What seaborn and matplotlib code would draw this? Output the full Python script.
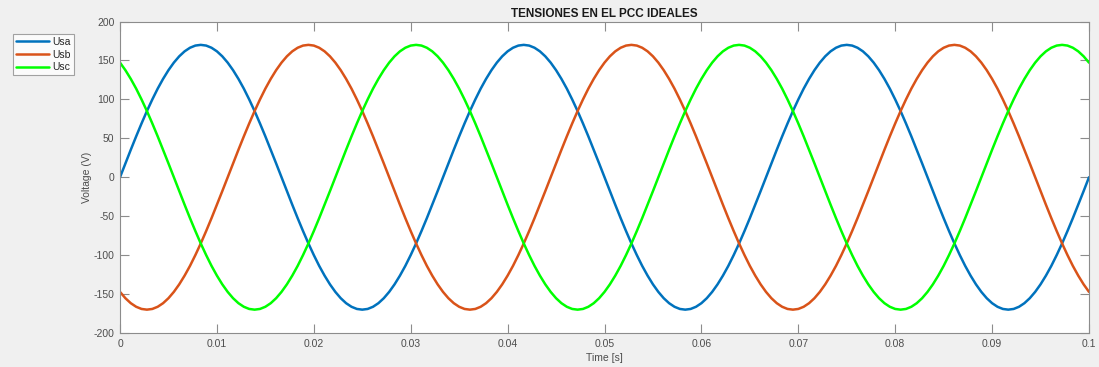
import pandas as pd
import matplotlib
matplotlib.use("Agg")
import matplotlib.pyplot as plt
import seaborn as sns

# Sample times: 181 samples spread evenly over 0 .. 0.1 s
n_samples = 181
t_end = 0.1

# one period (60 samples) of each phase voltage (V)
usa_cycle = [0.0, 17.8, 35.3, 52.5, 69.1, 85.0, 99.9, 113.8, 126.3, 137.5,
             147.2, 155.3, 161.7, 166.3, 169.1, 170.0, 169.1, 166.3, 161.7, 155.3,
             147.2, 137.5, 126.3, 113.8, 99.9, 85.0, 69.1, 52.5, 35.3, 17.8,
             0.0, -17.8, -35.3, -52.5, -69.1, -85.0, -99.9, -113.8, -126.3, -137.5,
             -147.2, -155.3, -161.7, -166.3, -169.1, -170.0, -169.1, -166.3, -161.7, -155.3,
             -147.2, -137.5, -126.3, -113.8, -99.9, -85.0, -69.1, -52.5, -35.3, -17.8]
usb_cycle = [-147.2, -155.3, -161.7, -166.3, -169.1, -170.0, -169.1, -166.3, -161.7, -155.3,
             -147.2, -137.5, -126.3, -113.8, -99.9, -85.0, -69.1, -52.5, -35.3, -17.8,
             0.0, 17.8, 35.3, 52.5, 69.1, 85.0, 99.9, 113.8, 126.3, 137.5,
             147.2, 155.3, 161.7, 166.3, 169.1, 170.0, 169.1, 166.3, 161.7, 155.3,
             147.2, 137.5, 126.3, 113.8, 99.9, 85.0, 69.1, 52.5, 35.3, 17.8,
             0.0, -17.8, -35.3, -52.5, -69.1, -85.0, -99.9, -113.8, -126.3, -137.5]
usc_cycle = [147.2, 137.5, 126.3, 113.8, 99.9, 85.0, 69.1, 52.5, 35.3, 17.8,
             0.0, -17.8, -35.3, -52.5, -69.1, -85.0, -99.9, -113.8, -126.3, -137.5,
             -147.2, -155.3, -161.7, -166.3, -169.1, -170.0, -169.1, -166.3, -161.7, -155.3,
             -147.2, -137.5, -126.3, -113.8, -99.9, -85.0, -69.1, -52.5, -35.3, -17.8,
             0.0, 17.8, 35.3, 52.5, 69.1, 85.0, 99.9, 113.8, 126.3, 137.5,
             147.2, 155.3, 161.7, 166.3, 169.1, 170.0, 169.1, 166.3, 161.7, 155.3]

usa = usa_cycle * 3 + [usa_cycle[0]]
usb = usb_cycle * 3 + [usb_cycle[0]]
usc = usc_cycle * 3 + [usc_cycle[0]]

series_names = ["Usa", "Usb", "Usc"]
colors = ["#0072BD", "#D95319", "#00FF00"]
x_ticks = [0, 0.01, 0.02, 0.03, 0.04, 0.05, 0.06, 0.07, 0.08, 0.09, 0.1]
x_tick_labels = ["0", "0.01", "0.02", "0.03", "0.04", "0.05", "0.06", "0.07", "0.08", "0.09", "0.1"]
y_ticks = [-200, -150, -100, -50, 0, 50, 100, 150, 200]
y_tick_labels = ["-200", "-150", "-100", "-50", "0", "50", "100", "150", "200"]

t = [t_end * i / (n_samples - 1) for i in range(n_samples)]
df = pd.DataFrame({
    "t": t * 3,
    "v": usa + usb + usc,
    "s": [series_names[0]] * n_samples + [series_names[1]] * n_samples + [series_names[2]] * n_samples,
})

sns.set_style("white")
plt.rcParams["font.family"] = ["Liberation Sans", "DejaVu Sans"]
plt.rcParams["axes.unicode_minus"] = False

fig = plt.figure(figsize=(10.99, 3.67), dpi=100, facecolor="#F0F0F0")
ax = fig.add_axes([0.1092, 0.0926, 0.8817, 0.8488])
ax.set_facecolor("white")

sns.lineplot(data=df, x="t", y="v", hue="s", palette=dict(zip(series_names, colors)),
             linewidth=1.8, ax=ax, legend=True, estimator=None)

ax.set_xlim(0, 0.1)
ax.set_ylim(-200, 200)
ax.set_xticks(x_ticks)
ax.set_xticklabels(x_tick_labels)
ax.set_yticks(y_ticks)
ax.set_yticklabels(y_tick_labels)
ax.tick_params(direction="in", length=6.5, width=0.8, colors="#8c8c8c", labelcolor="#4d4d4d",
               labelsize=7.5, top=True, right=True, bottom=True, left=True, pad=4)
for sp in ax.spines.values():
    sp.set_visible(True)
    sp.set_color("#8c8c8c")
    sp.set_linewidth(0.8)

ax.set_xlabel("Time [s]", fontsize=7.5, color="#4d4d4d", labelpad=3)
ax.set_ylabel("Voltage (V)", fontsize=7.5, color="#4d4d4d", labelpad=1)
ax.set_title("TENSIONES EN EL PCC IDEALES", fontsize=8.5, fontweight="bold", color="#1a1a1a", pad=3)

leg = ax.legend(loc="upper left", bbox_to_anchor=(-0.1104, 0.96), fontsize=7.5,
                frameon=True, fancybox=False, edgecolor="#8c8c8c", handlelength=3.2,
                borderpad=0.3, labelspacing=0.25, handletextpad=0.3, borderaxespad=0)
leg.get_frame().set_linewidth(0.8)
leg.get_frame().set_facecolor("white")
for txt in leg.get_texts():
    txt.set_color("#262626")

fig.savefig("out.png", dpi=100, facecolor=fig.get_facecolor())
